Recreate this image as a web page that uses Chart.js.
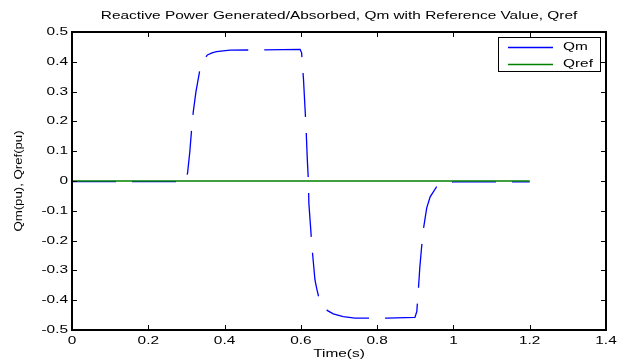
<!DOCTYPE html>
<html>
<head>
<meta charset="utf-8">
<script src="https://cdn.jsdelivr.net/npm/chart.js@4/dist/chart.umd.min.js"></script>
<style>
  html, body { margin: 0; padding: 0; background: #fff; }
  canvas { display: block; }
</style>
</head>
<body>
<canvas id="c" width="617" height="360"></canvas>
<script>
// ---- Data ----
const timeQm = [0, 0.1, 0.2, 0.29, 0.297, 0.303, 0.309, 0.314, 0.318, 0.325, 0.336, 0.345, 0.355, 0.367, 0.379, 0.414, 0.5, 0.598,
  0.602, 0.607, 0.6135, 0.617, 0.6197, 0.621, 0.626, 0.629, 0.633, 0.637, 0.6415, 0.646, 0.656, 0.67, 0.685, 0.711, 0.742, 0.825,
  0.899, 0.904, 0.908, 0.912, 0.916, 0.921, 0.930, 0.939, 0.956, 0.982, 1.0, 1.2];
const valuesQm = [-0.002, -0.002, -0.002, -0.002, 0.0, 0.027, 0.10, 0.18, 0.233, 0.30, 0.378, 0.405, 0.423, 0.430, 0.434, 0.439, 0.440, 0.442,
  0.43, 0.339, 0.182, 0.07, 0.003, -0.075, -0.164, -0.22, -0.276, -0.332, -0.36, -0.385, -0.416, -0.435, -0.446, -0.455, -0.46, -0.46,
  -0.458, -0.438, -0.366, -0.288, -0.23, -0.164, -0.09, -0.053, -0.019, -0.006, -0.003, -0.003];
const timeQref = [0, 1.2];
const valuesQref = [0, 0];

const xTickValues = [0, 0.2, 0.4, 0.6, 0.8, 1.0, 1.2, 1.4];
const xTickLabels = ['0', '0.2', '0.4', '0.6', '0.8', '1', '1.2', '1.4'];
const yTickValues = [-0.5, -0.4, -0.3, -0.2, -0.1, 0, 0.1, 0.2, 0.3, 0.4, 0.5];
const yTickLabels = ['-0.5', '-0.4', '-0.3', '-0.2', '-0.1', '0', '0.1', '0.2', '0.3', '0.4', '0.5'];

const titleText = 'Reactive Power Generated/Absorbed, Qm with Reference Value, Qref';
const xAxisTitle = 'Time(s)';
const yAxisTitle = 'Qm(pu), Qref(pu)';
const seriesNames = ['Qm', 'Qref'];
const seriesColors = ['rgb(0,0,255)', 'rgb(0,128,0)'];

// ---- Helpers ----
const FONT = '11px "Liberation Sans", Arial, sans-serif';
const SX = 1.4;
function sText(ctx, txt, x, y, align, sx, rot) {
  ctx.save();
  ctx.translate(x, y);
  if (rot) ctx.rotate(rot);
  ctx.scale(sx, 1);
  ctx.textAlign = align;
  ctx.textBaseline = 'middle';
  ctx.fillText(txt, 0, 0);
  ctx.restore();
}

const matlabAxes = {
  id: 'matlabAxes',
  afterDatasetsDraw(chart) {
    const ctx = chart.ctx;
    const a = chart.chartArea;
    const xs = chart.scales.x, ys = chart.scales.y;
    ctx.save();
    ctx.setLineDash([]);
    ctx.strokeStyle = '#000';
    ctx.fillStyle = '#000';
    // box
    ctx.lineWidth = 2;
    ctx.strokeRect(a.left, a.top, a.right - a.left, a.bottom - a.top);
    // ticks (inward, on all four sides)
    ctx.lineWidth = 1;
    const TL = 5;
    ctx.beginPath();
    xTickValues.forEach(v => {
      const px = Math.round(xs.getPixelForValue(v)) + 0.5;
      ctx.moveTo(px, a.bottom); ctx.lineTo(px, a.bottom - TL);
      ctx.moveTo(px, a.top); ctx.lineTo(px, a.top + TL);
    });
    yTickValues.forEach(v => {
      const py = Math.round(ys.getPixelForValue(v)) + 0.5;
      ctx.moveTo(a.left, py); ctx.lineTo(a.left + TL, py);
      ctx.moveTo(a.right, py); ctx.lineTo(a.right - TL, py);
    });
    ctx.stroke();
    // tick labels
    ctx.font = FONT;
    xTickValues.forEach((v, i) => {
      sText(ctx, xTickLabels[i], xs.getPixelForValue(v), a.bottom + 11, 'center', SX);
    });
    yTickValues.forEach((v, i) => {
      sText(ctx, yTickLabels[i], a.left - 4, ys.getPixelForValue(v), 'right', SX);
    });
    // titles
    const cx = (a.left + a.right) / 2;
    sText(ctx, titleText, cx, 16, 'center', SX);
    sText(ctx, xAxisTitle, cx, 354, 'center', SX);
    sText(ctx, yAxisTitle, 19, (a.top + a.bottom) / 2, 'center', 1.2, -Math.PI / 2);

    // legend
    const lx = 498, ly = 37, lw = 102, lh = 34;
    ctx.fillStyle = '#fff';
    ctx.fillRect(lx, ly, lw, lh);
    ctx.strokeStyle = '#000';
    ctx.lineWidth = 1;
    ctx.strokeRect(lx + 0.5, ly + 0.5, lw, lh);
    const ds = chart.data.datasets;
    const rows = [47, 64];
    ds.forEach((d, i) => {
      ctx.setLineDash([]);
      ctx.strokeStyle = seriesColors[i];
      ctx.lineWidth = 1.3;
      ctx.beginPath();
      ctx.moveTo(508, rows[i] + 0.5); ctx.lineTo(553, rows[i] + 0.5);
      ctx.stroke();
      ctx.fillStyle = '#000';
      ctx.font = FONT;
      sText(ctx, d.label, 563, rows[i], 'left', SX);
    });
    ctx.restore();
  }
};

new Chart(document.getElementById('c'), {
  type: 'line',
  data: {
    datasets: [
      {
        label: seriesNames[0],
        data: timeQm.map((t, i) => ({ x: t, y: valuesQm[i] })),
        borderColor: seriesColors[0],
        borderWidth: 1.3,
        borderDash: [44, 16],
        pointRadius: 0,
        tension: 0,
        order: 2
      },
      {
        label: seriesNames[1],
        data: timeQref.map((t, i) => ({ x: t, y: valuesQref[i] })),
        borderColor: seriesColors[1],
        borderWidth: 1.4,
        pointRadius: 0,
        tension: 0,
        order: 1
      }
    ]
  },
  options: {
    responsive: false,
    animation: false,
    layout: { padding: { left: 72, right: 11, top: 32, bottom: 30 } },
    scales: {
      x: { type: 'linear', min: 0, max: 1.4, display: false },
      y: { type: 'linear', min: -0.5, max: 0.5, display: false }
    },
    plugins: {
      legend: { display: false },
      title: { display: false },
      tooltip: { enabled: false }
    }
  },
  plugins: [matlabAxes]
});
</script>
</body>
</html>
